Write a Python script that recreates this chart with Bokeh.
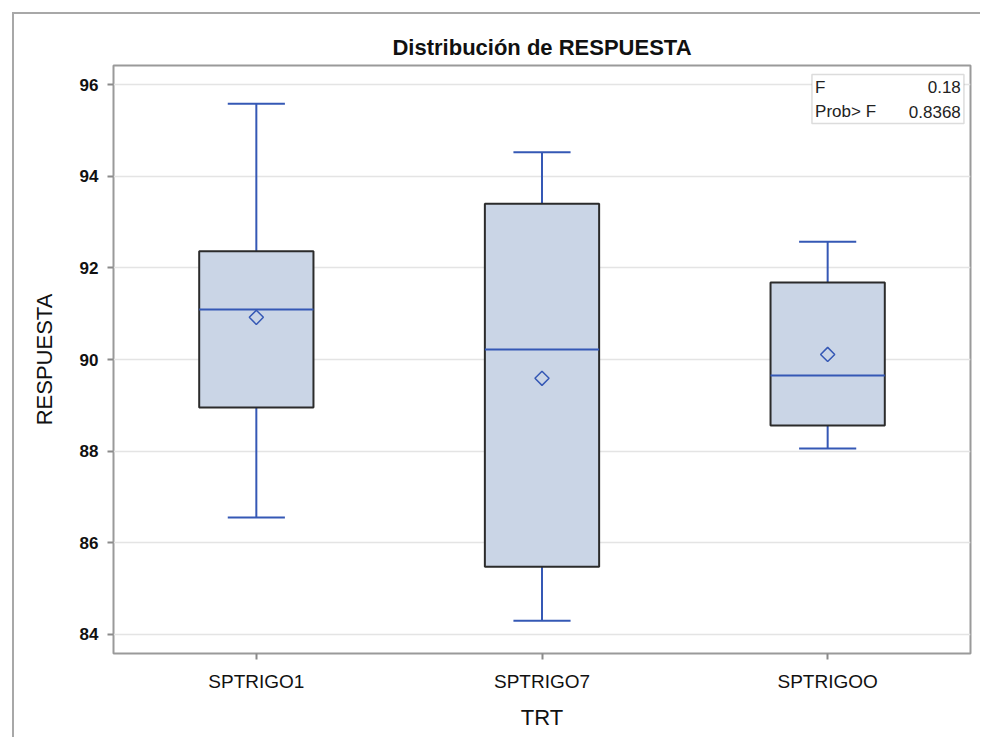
from bokeh.plotting import figure
from bokeh.models import (ColumnDataSource, FactorRange, BoxAnnotation, Label,
                          FixedTicker)
from bokeh.transform import dodge
from bokeh.embed import file_html
from bokeh.resources import INLINE

# ---- data ----
categories = ["SPTRIGO1", "SPTRIGO7", "SPTRIGOO"]
whisker_low = [86.55, 84.30, 88.06]
q1 = [88.95, 85.48, 88.56]
median = [91.09, 90.22, 89.65]
q3 = [92.36, 93.40, 91.68]
whisker_high = [95.58, 94.52, 92.57]
mean = [90.92, 89.59, 90.11]
y_ticks = [84, 86, 88, 90, 92, 94, 96]
stat_names = ["F", "Prob> F"]
stat_values = ["0.18", "0.8368"]

BLUE = "#3558B5"
FILL = "#CAD5E6"
FONT = "Liberation Sans"

src = ColumnDataSource(dict(cat=categories, lo=whisker_low, q1=q1, med=median,
                            q3=q3, hi=whisker_high, mean=mean))

p = figure(x_range=FactorRange(*categories, range_padding=0),
           y_range=(83.585, 96.415),
           frame_width=857, frame_height=588,
           min_border_left=113, min_border_right=10,
           min_border_top=65, min_border_bottom=84,
           output_backend="svg", toolbar_location=None,
           title="Distribución de RESPUESTA")

p.background_fill_color = "white"
p.border_fill_color = "white"
p.border_fill_alpha = 0.0
p.outline_line_color = "#9A9A9A"
p.outline_line_width = 2

# outer page frame drawn behind the (transparent) canvas border
p.styles = {
    "background-color": "white",
    "background-image": "linear-gradient(#A8A8A8, #A8A8A8), linear-gradient(#A8A8A8, #A8A8A8)",
    "background-position": "12px 12px, 12px 12px",
    "background-size": "2px 100%, 100% 2px",
    "background-repeat": "no-repeat, no-repeat",
}

# title
p.title.align = "center"
p.title.text_font = FONT
p.title.text_font_size = "22px"
p.title.text_font_style = "bold"
p.title.text_color = "#111111"
p.title.offset = 0
p.title.standoff = 11

# grid
p.xgrid.grid_line_color = None
p.ygrid.grid_line_color = "#E4E4E4"
p.ygrid.grid_line_width = 1.5
p.yaxis.ticker = FixedTicker(ticks=y_ticks)

for ax in (p.xaxis[0], p.yaxis[0]):
    ax.axis_line_color = None
    ax.major_tick_line_color = "#8A8A8A"
    ax.major_tick_line_width = 2
    ax.major_tick_out = 6
    ax.major_tick_in = 0
    ax.minor_tick_line_color = None
    ax.major_label_text_font = FONT
    ax.major_label_text_color = "#111111"
    ax.axis_label_text_font = FONT
    ax.axis_label_text_font_style = "normal"
    ax.axis_label_text_color = "#111111"
    ax.axis_label_text_font_size = "22px"

p.yaxis.major_label_text_font_size = "17px"
p.yaxis.major_label_text_font_style = "bold"
p.xaxis.major_label_text_font_size = "19px"
p.xaxis.major_label_standoff = 11
p.yaxis.major_label_standoff = 9
p.xaxis.axis_label = "TRT"
p.yaxis.axis_label = "RESPUESTA"
p.xaxis.axis_label_standoff = 10
p.yaxis.axis_label_standoff = 20

# whiskers
p.segment(x0="cat", y0="q3", x1="cat", y1="hi", source=src,
          line_color=BLUE, line_width=2)
p.segment(x0="cat", y0="q1", x1="cat", y1="lo", source=src,
          line_color=BLUE, line_width=2)
p.segment(x0=dodge("cat", -0.1, range=p.x_range), y0="hi",
          x1=dodge("cat", 0.1, range=p.x_range), y1="hi", source=src,
          line_color=BLUE, line_width=2)
p.segment(x0=dodge("cat", -0.1, range=p.x_range), y0="lo",
          x1=dodge("cat", 0.1, range=p.x_range), y1="lo", source=src,
          line_color=BLUE, line_width=2)

# boxes
p.vbar(x="cat", width=0.4, bottom="q1", top="q3", source=src,
       fill_color=FILL, line_color="#2B2B2B", line_width=2)

# median
p.segment(x0=dodge("cat", -0.2, range=p.x_range), y0="med",
          x1=dodge("cat", 0.2, range=p.x_range), y1="med", source=src,
          line_color=BLUE, line_width=2)

# mean (diamond = rotated square)
p.scatter(x="cat", y="mean", source=src, marker="square", size=10,
          angle=0.785398, fill_color=None, line_color=BLUE, line_width=1.5)

# stats inset
inset = BoxAnnotation(left=2.445, right=2.977, top=96.22, bottom=95.15,
                      fill_color="white", fill_alpha=1.0,
                      line_color="#8C8C8C", line_width=1.5, level="overlay")
p.add_layout(inset)
for i, (yy) in enumerate([95.94, 95.41]):
    p.add_layout(Label(x=2.456, y=yy, text=stat_names[i], text_font=FONT,
                       text_font_size="17px", text_color="#222222",
                       text_baseline="middle", text_align="left", level="overlay"))
    p.add_layout(Label(x=2.966, y=yy, text=stat_values[i], text_font=FONT,
                       text_font_size="17px", text_color="#222222",
                       text_baseline="middle", text_align="right", level="overlay"))

open("out.html", "w").write(file_html(p, INLINE))
